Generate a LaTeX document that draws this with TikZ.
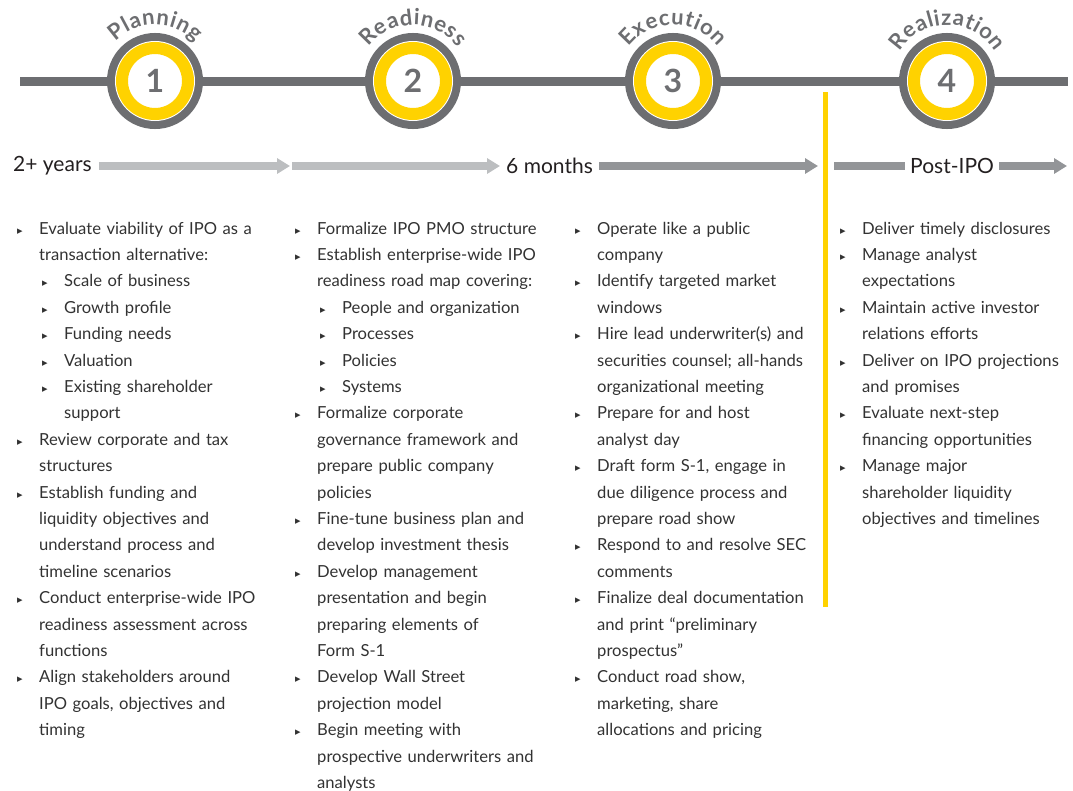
\documentclass[tikz,border=0pt]{standalone}
\usepackage{fontspec}
\setmainfont{Lato}
\newfontfamily\symfont{DejaVu Sans}
\usetikzlibrary{arrows.meta, positioning, decorations.text}
\definecolor{RingGray}{RGB}{109,110,113}
\definecolor{RingYellow}{RGB}{255,210,0}
\definecolor{LightBar}{RGB}{188,190,192}
\definecolor{DarkBar}{RGB}{147,149,152}
\definecolor{TextBlack}{RGB}{35,31,32}
\definecolor{TextGray}{RGB}{50,50,50}
\newcommand{\tri}{{\symfont\fontsize{11}{11}\selectfont\char"25B8}}
\newcommand{\arcfont}{\fontsize{22}{22}\selectfont\bfseries\kern0.6pt}
% bullet lists, one line every \baselineskip
\newenvironment{points}{\begin{list}{\tri}{%
  \setlength{\leftmargin}{22pt}\setlength{\labelwidth}{22pt}\setlength{\labelsep}{0pt}%
  \setlength{\itemsep}{0pt}\setlength{\parsep}{0pt}\setlength{\topsep}{0pt}\setlength{\partopsep}{0pt}%
  \renewcommand{\makelabel}[1]{##1\hfil}}}{\end{list}}
\newenvironment{subpoints}{\begin{list}{\tri}{%
  \setlength{\leftmargin}{25pt}\setlength{\labelwidth}{25pt}\setlength{\labelsep}{0pt}%
  \setlength{\itemsep}{0pt}\setlength{\parsep}{0pt}\setlength{\topsep}{0pt}\setlength{\partopsep}{0pt}%
  \renewcommand{\makelabel}[1]{\hspace{3pt}##1\hfil}}}{\end{list}}
\hyphenpenalty=10000 \exhyphenpenalty=10000

\begin{document}
\begin{tikzpicture}[x=1pt, y=-1pt,
  stage/.style={circle, inner sep=0pt, minimum size=66pt, fill=white, draw=RingYellow, line width=12pt,
    preaction={draw=RingGray, line width=30pt}, preaction={draw=white, line width=14pt},
    text=RingGray, font=\fontsize{32}{32}\selectfont\bfseries},
  phase/.style={decorate, decoration={text along path, text align=center, text color=RingGray, text={|\arcfont|#1}}},
  span/.style={inner sep=0pt, anchor=west, text=TextBlack, font=\fontsize{21}{21}\selectfont},
  bar/.style={line width=8pt},
  barhead/.style={bar, -{Triangle[width=15pt,length=13pt]}},
  column/.style={anchor=base west, inner sep=0pt, text width=#1, align=left, text=TextGray,
    font=\fontsize{16.6}{26.4}\selectfont}]
\useasboundingbox (0,0) rectangle (1073,790);

% stage line with the four rings
\coordinate (lineL) at (20,81);
\coordinate (lineR) at (1068,81);
\draw[RingGray, line width=9pt] (lineL) -- (lineR);
\node[stage] (s1) at (155,81) {1};
\node[stage] (s2) at (413,81) {2};
\node[stage] (s3) at (673,81) {3};
\node[stage] (s4) at (947,81) {4};
\path[phase=Planning] (s1.center) ++(180:56) arc[start angle=180, end angle=360, radius=56];
\path[phase=Readiness] (s2.center) ++(180:56) arc[start angle=180, end angle=360, radius=56];
\path[phase=Execution] (s3.center) ++(180:56) arc[start angle=180, end angle=360, radius=56];
\path[phase=Realization] (s4.center) ++(180:56) arc[start angle=180, end angle=360, radius=56];

% IPO day
\coordinate (cuttop) at (825,92);
\coordinate (cutbot) at (825,607);
\draw[RingYellow, line width=5pt] (cuttop) -- (cutbot);

% time spans
\node[span] (yrs) at (13,166) {2+ years};
\node[span] (mos) at (506,166) {6 months};
\node[span] (post) at (910,166) {Post-IPO};
\coordinate (a1) at (290,166);
\coordinate (a2) at (292,166);
\coordinate (a3) at (818,166);
\coordinate (p0) at (834,166);
\coordinate (p1) at (1067,166);
\draw[barhead, LightBar] ([xshift=7pt]yrs.east) -- (a1);
\draw[barhead, LightBar] (a2) -- ([xshift=-6pt]mos.west);
\draw[barhead, DarkBar] ([xshift=6pt]mos.east) -- (a3);
\draw[bar, DarkBar] (p0) -- ([xshift=-5pt]post.west);
\draw[barhead, DarkBar] ([xshift=5pt]post.east) -- (p1);

% activities per stage
\node[column=260pt] (plan) at (17,207.6) {\begin{points}
\item Evaluate viability of IPO as a\\ transaction alternative:
  \begin{subpoints}
  \item Scale of business
  \item Growth profile
  \item Funding needs
  \item Valuation
  \item Existing shareholder\\ support
  \end{subpoints}
\item Review corporate and tax\\ structures
\item Establish funding and\\ liquidity objectives and\\ understand process and\\ timeline scenarios
\item Conduct enterprise-wide IPO\\ readiness assessment across\\ functions
\item Align stakeholders around\\ IPO goals, objectives and\\ timing
\end{points}};
\node[column=265pt] (ready) at (295,207.6) {\begin{points}
\item Formalize IPO PMO structure
\item Establish enterprise-wide IPO\\ readiness road map covering:
  \begin{subpoints}
  \item People and organization
  \item Processes
  \item Policies
  \item Systems
  \end{subpoints}
\item Formalize corporate\\ governance framework and\\ prepare public company\\ policies
\item Fine-tune business plan and\\ develop investment thesis
\item Develop management\\ presentation and begin\\ preparing elements of\\ Form S-1
\item Develop Wall Street\\ projection model
\item Begin meeting with\\ prospective underwriters and\\ analysts
\end{points}};
\node[column=245pt] (exec) at (575,207.6) {\begin{points}
\item Operate like a public\\ company
\item Identify targeted market\\ windows
\item Hire lead underwriter(s) and\\ securities counsel; all-hands\\ organizational meeting
\item Prepare for and host\\ analyst day
\item Draft form S-1, engage in\\ due diligence process and\\ prepare road show
\item Respond to and resolve SEC\\ comments
\item Finalize deal documentation\\ and print “preliminary\\ prospectus”
\item Conduct road show,\\ marketing, share\\ allocations and pricing
\end{points}};
\node[column=230pt] (real) at (840,207.6) {\begin{points}
\item Deliver timely disclosures
\item Manage analyst\\ expectations
\item Maintain active investor\\ relations efforts
\item Deliver on IPO projections\\ and promises
\item Evaluate next-step\\ financing opportunities
\item Manage major\\ shareholder liquidity\\ objectives and timelines
\end{points}};
\end{tikzpicture}
\end{document}
